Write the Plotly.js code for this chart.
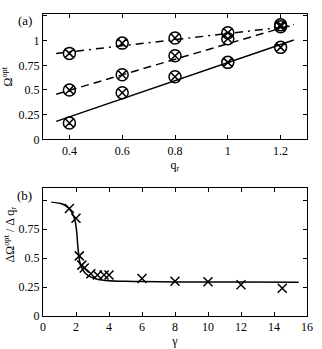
<!DOCTYPE html>
<html>
<head>
<meta charset="utf-8">
<script src="https://cdn.plot.ly/plotly-3.0.1.min.js"></script>
<style>
  html, body { margin: 0; padding: 0; background: #fff; }
  #chart { width: 322px; height: 349px; }
</style>
</head>
<body>
<div id="chart"></div>
<script>
// panel (a): optimal Omega against q_r
var qr = [0.4, 0.6, 0.8, 1.0, 1.2];
var omegaSolid = [0.165, 0.472, 0.634, 0.78, 0.932];
var omegaDash = [0.50, 0.655, 0.847, 1.02, 1.14];
var omegaDashDot = [0.871, 0.975, 1.026, 1.08, 1.16];

// fitted lines (end points)
var fitX = [0.35, 1.25];
var fitSolid = [0.182, 1.006];
var fitDash = [0.457, 1.165];
var fitDashDot = [0.87, 1.15];

// panel (b): slope against gamma
var gam = [1.6, 2.0, 2.2, 2.35, 2.5, 2.9, 3.3, 3.7, 4.0, 6, 8, 10, 12, 14.5];
var slope = [0.93, 0.845, 0.52, 0.44, 0.415, 0.365, 0.355, 0.355, 0.355, 0.325, 0.3, 0.297, 0.27, 0.24];

var curveX = [0.5, 1.0, 1.3, 1.6, 1.8, 1.95, 2.05, 2.1, 2.15, 2.2, 2.3, 2.45, 2.6, 2.85, 3.3, 4.0, 5.0, 6.0, 8.0, 10, 12, 15.5];
var curveY = [0.985, 0.975, 0.96, 0.925, 0.88, 0.82, 0.72, 0.62, 0.55, 0.49, 0.43, 0.39, 0.365, 0.34, 0.318, 0.305, 0.3, 0.298, 0.295, 0.294, 0.293, 0.292];

var serif = 'Liberation Serif, Times New Roman, serif';

function markers(x, y, xa, ya, sym, size) {
  return {
    x: x, y: y, xaxis: xa, yaxis: ya, type: 'scatter', mode: 'markers',
    marker: {symbol: sym, size: size, color: '#000', line: {color: '#000', width: 1.5}},
    hoverinfo: 'skip'
  };
}
function fitLine(x, y, dash) {
  return {
    x: x, y: y, xaxis: 'x', yaxis: 'y', type: 'scatter', mode: 'lines',
    line: {color: '#000', width: 1.5, dash: dash}, hoverinfo: 'skip'
  };
}

var traces = [
  fitLine(fitX, fitSolid, 'solid'),
  fitLine(fitX, fitDash, '8px,5px'),
  fitLine(fitX, fitDashDot, '8px,5px,2px,5px'),
  markers(qr, omegaSolid, 'x', 'y', 'circle-x-open', 12),
  markers(qr, omegaDash, 'x', 'y', 'circle-x-open', 12),
  markers(qr, omegaDashDot, 'x', 'y', 'circle-x-open', 12),
  {
    x: curveX, y: curveY, xaxis: 'x2', yaxis: 'y2', type: 'scatter', mode: 'lines',
    line: {color: '#000', width: 1.5, shape: 'spline', smoothing: 0.6}, hoverinfo: 'skip'
  },
  markers(gam, slope, 'x2', 'y2', 'x-thin-open', 9)
];

var axisBase = {
  showline: true, linecolor: '#000', linewidth: 1, mirror: 'ticks',
  ticks: 'inside', ticklen: 4, tickcolor: '#000', tickwidth: 1,
  showgrid: false, zeroline: false,
  tickfont: {family: serif, size: 12, color: '#000'}
};
function ax(extra) { return Object.assign({}, axisBase, extra); }

var layout = {
  width: 322, height: 349,
  margin: {l: 43, r: 15, t: 14, b: 33},
  paper_bgcolor: '#fff', plot_bgcolor: '#fff',
  showlegend: false,
  font: {family: serif, size: 12, color: '#000'},
  xaxis: ax({
    domain: [0, 1], anchor: 'y', range: [0.3, 1.3],
    tickvals: [0.4, 0.6, 0.8, 1.0, 1.2], ticktext: ['0.4', '0.6', '0.8', '1', '1.2'],
    title: {text: 'q<sub>r</sub>', font: {family: serif, size: 12}, standoff: 2}
  }),
  yaxis: ax({
    domain: [0.585, 1], anchor: 'x', range: [0, 1.27],
    tickvals: [0, 0.25, 0.5, 0.75, 1, 1.25], ticktext: ['0', '0.25', '0.5', '0.75', '1', ' '],
    title: {text: 'Ω<sup>opt</sup>', font: {family: serif, size: 12}, standoff: 4}
  }),
  xaxis2: ax({
    domain: [0, 1], anchor: 'y2', range: [0, 16], dtick: 2, tick0: 0,
    title: {text: 'γ', font: {family: serif, size: 12}, standoff: 2}
  }),
  yaxis2: ax({
    domain: [0, 0.423], anchor: 'x2', range: [0, 1.105],
    tickvals: [0, 0.25, 0.5, 0.75, 1], ticktext: ['0', '0.25', '0.5', '0.75', ' ']
  }),
  annotations: [
    {text: '(a)', xref: 'paper', yref: 'paper', x: -0.069, y: 0.98,
     xanchor: 'center', yanchor: 'middle',
     showarrow: false, font: {family: serif, size: 13, color: '#000'}},
    {text: '(b)', xref: 'paper', yref: 'paper', x: -0.069, y: 0.40,
     xanchor: 'center', yanchor: 'middle',
     showarrow: false, font: {family: serif, size: 13, color: '#000'}},
    // y title of panel (b), sits a bit above the axis centre as in the reference
    {text: 'ΔΩ<sup>opt</sup> / Δ q<sub>r</sub>', xref: 'paper', yref: 'paper',
     x: -0.125, y: 0.27, xanchor: 'center', yanchor: 'middle',
     textangle: -90, showarrow: false,
     font: {family: serif, size: 12, color: '#000'}}
  ]
};

Plotly.newPlot('chart', traces, layout, {displayModeBar: false, staticPlot: true});
</script>
</body>
</html>
